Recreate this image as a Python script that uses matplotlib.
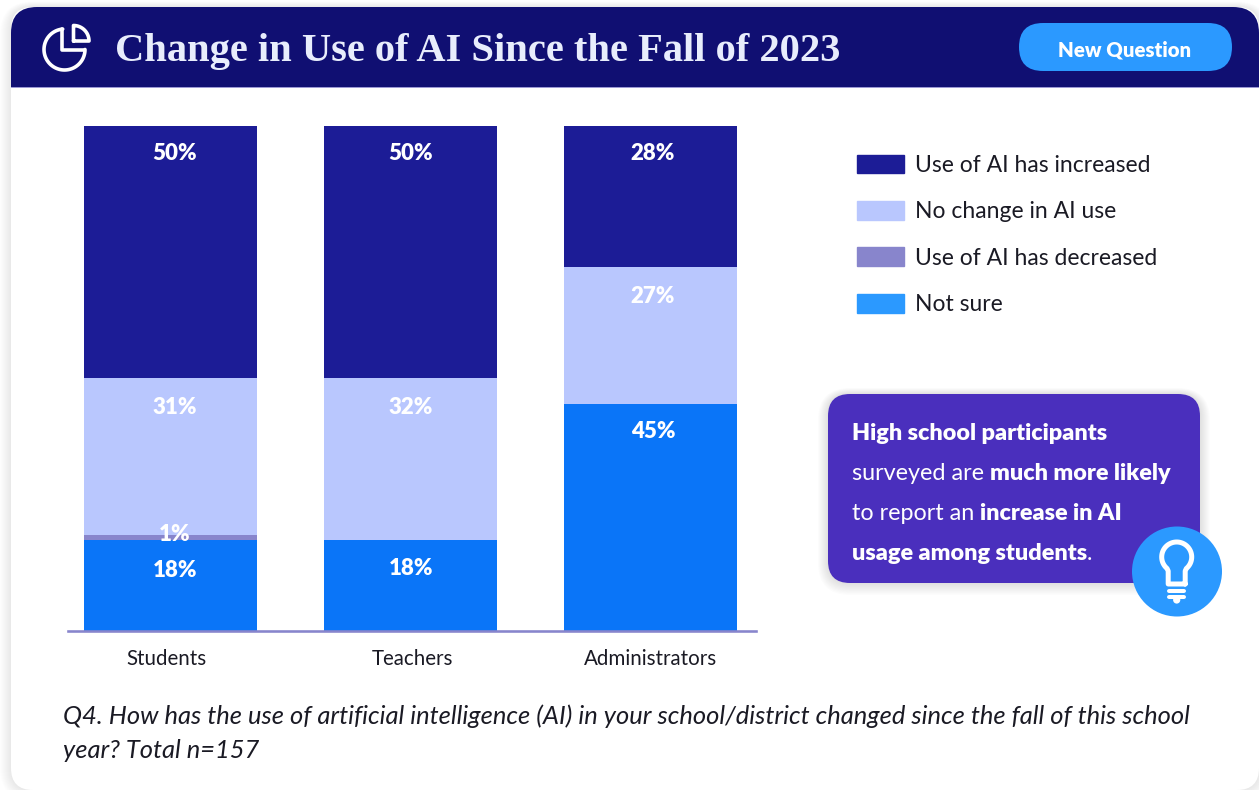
import numpy as np
import matplotlib
matplotlib.use("Agg")
import matplotlib.pyplot as plt
from matplotlib.patches import FancyBboxPatch, Circle, Patch
from matplotlib.transforms import ScaledTranslation

categories = ["Students", "Teachers", "Administrators"]
not_sure = [18, 18, 45]
decreased = [1, 0, 0]
no_change = [31, 32, 27]
increased = [50, 50, 28]
series_names = ["Use of AI has increased", "No change in AI use", "Use of AI has decreased", "Not sure"]

C_HEADER = "#100F72"
C_INC = "#1C1C96"
C_NOCH = "#B9C7FE"
C_DEC = "#8885CC"
C_NS = "#0A75F8"
C_BTN = "#2B99FF"
C_CALL = "#4A2FBD"
C_TEXT = "#1a1a24"
BODY = "Lato"

W, H = 1259, 790
fig = plt.figure(figsize=(W / 100, H / 100), dpi=100, facecolor="white")
px = 72 / 100

bg = fig.add_axes([0, 0, 1, 1], zorder=0)
bg.set_xlim(0, W); bg.set_ylim(H, 0); bg.axis("off")

def rbox(ax, x0, y0, x1, y1, r, **kw):
    p = FancyBboxPatch((x0 + r, y0 + r), x1 - x0 - 2 * r, y1 - y0 - 2 * r,
                       boxstyle=f"round,pad={r},rounding_size={r}", mutation_aspect=1, **kw)
    ax.add_patch(p)
    return p

# card shadow, card, header
for i in range(11, 0, -1):
    rbox(bg, 11 - i, 7 - i * 0.5, 1259 + i, 790 + i, 22 + i, fc="black", ec="none", alpha=0.006)
rbox(bg, 11, 7, 1259, 790, 22, fc="white", ec="none")
rbox(bg, 11, 7, 1259, 120, 26, fc=C_HEADER, ec="none")
bg.fill_between([11, 1259], 87, 122, color="white", lw=0, zorder=1.5)
bg.plot([11, 1259], [87.3, 87.3], color="#8885CC", lw=0.6, zorder=1.6)

# pie icon
def arc(ax, cx, cy, r, a0, a1, **kw):
    t = np.radians(np.linspace(a0, a1, 80))
    ax.plot(cx + r * np.cos(t), cy - r * np.sin(t), **kw)

ik = dict(color="white", lw=3.6 * px, solid_capstyle="round", solid_joinstyle="round", zorder=3)
arc(bg, 64.5, 49.5, 20.5, 95, 360, **ik)
bg.plot([62.5, 62.5, 84.5], [29, 50, 50], **ik)
t = np.radians(np.linspace(0, 90, 40))
xs = 73.5 + 15.5 * np.cos(t)
ys = 41 - 15.5 * np.sin(t)
bg.plot(np.r_[73.5, xs, 73.5], np.r_[41, ys, 41], **ik)

bg.text(115, 51, "Change in Use of AI Since the Fall of 2023", family="Liberation Serif",
        weight="bold", fontsize=29.2, color="#E8EDFC", va="center", ha="left", zorder=3)

# button
rbox(bg, 1019, 23, 1232, 71, 24, fc=C_BTN, ec="none", zorder=3)
bg.text(1124.5, 50, "New Question", family=BODY, weight="heavy", fontsize=14.7, color="white",
        ha="center", va="center", zorder=4)

# chart
ax = fig.add_axes([68 / W, 1 - 630.7 / H, (756 - 68) / W, 504.7 / H], zorder=1)
ax.patch.set_alpha(0)
step = 240
ax.set_xlim((68 - 170.5) / step, (756 - 170.5) / step)
ax.set_ylim(0, 100)
x = np.arange(len(categories))
bw = 173 / step
ax.bar(x, not_sure, bw, color=C_NS)
b1 = np.array(not_sure, float)
ax.bar(x, decreased, bw, bottom=b1, color=C_DEC)
b2 = b1 + decreased
ax.bar(x, no_change, bw, bottom=b2, color=C_NOCH)
b3 = b2 + no_change
ax.bar(x, increased, bw, bottom=b3, color=C_INC)

for s in ("top", "left", "right"):
    ax.spines[s].set_visible(False)
ax.spines["bottom"].set_color(C_DEC)
ax.spines["bottom"].set_linewidth(2.6 * px)
ax.set_yticks([])
ax.set_xticks(x, categories, family=BODY, fontsize=14.8, color=C_TEXT)
ax.tick_params(axis="x", length=0, pad=13)
for lab, dx in zip(ax.get_xticklabels(), (-4.5, 1.5, 0)):
    lab.set_transform(lab.get_transform() + ScaledTranslation(dx / 100, 0, fig.dpi_scale_trans))

def val_label(xi, top, v, dx, dy):
    ax.annotate(f"{v}%", (xi, top), xytext=(dx * px, -dy * px), textcoords="offset points",
                ha="center", va="center", family=BODY, weight="heavy", fontsize=16,
                color="white", zorder=6)

col_dx = (4.5, 0.5, 2.5)
bottom_dy = (30.5, 28.5, 28)
for i in range(3):
    val_label(i, b3[i] + increased[i], increased[i], col_dx[i], 28)
    val_label(i, b2[i] + no_change[i], no_change[i], col_dx[i], 29)
    if decreased[i]:
        val_label(i, b1[i] + decreased[i], decreased[i], col_dx[i], 0)
    val_label(i, not_sure[i], not_sure[i], col_dx[i], bottom_dy[i])

# legend
handles = [Patch(color=c) for c in (C_INC, C_NOCH, C_DEC, C_BTN)]
leg = fig.legend(handles, series_names, loc="upper left", bbox_to_anchor=(857 / W, 1 - 154.5 / H),
                 frameon=False, prop={"family": BODY, "size": 16.5}, labelcolor=C_TEXT,
                 handlelength=2.06, handleheight=0.88, handletextpad=0.47, labelspacing=1.1,
                 borderpad=0, borderaxespad=0)

# overlay
ov = fig.add_axes([0, 0, 1, 1], zorder=2)
ov.set_xlim(0, W); ov.set_ylim(H, 0); ov.axis("off"); ov.patch.set_alpha(0)

for i in range(10, 0, -1):
    rbox(ov, 828 - i, 394 - i * 0.6, 1200 + i, 583 + i * 1.2, 22 + i, fc="black", ec="none", alpha=0.012)
rbox(ov, 828, 394, 1200, 583, 22, fc=C_CALL, ec="none")

fig.canvas.draw()
rend = fig.canvas.get_renderer()

def rich(ax, x0, y, parts, size):
    cur = x0
    for txt, bold in parts:
        w = "heavy" if bold else "normal"
        ax.text(cur, y, txt, family=BODY, weight=w, fontsize=size,
                color="white", ha="left", va="baseline", zorder=6)
        # trailing spaces are not measured reliably, so measure with a sentinel
        a = ax.text(0, 0, txt + "|", family=BODY, weight=w, fontsize=size, alpha=0)
        b = ax.text(0, 0, "|", family=BODY, weight=w, fontsize=size, alpha=0)
        cur += a.get_window_extent(rend).width - b.get_window_extent(rend).width
        a.remove(); b.remove()

sz = 16.8
rich(ov, 852, 440, [("High school participants", True)], sz)
rich(ov, 852, 480, [("surveyed are ", False), ("much more likely", True)], sz)
rich(ov, 852, 520, [("to report an ", False), ("increase in AI", True)], sz)
rich(ov, 852, 560, [("usage among students", True), (".", False)], sz)

# bulb badge
ov.add_patch(Circle((1177, 571.5), 45, fc=C_BTN, ec="none", zorder=7))
bk = dict(color="white", lw=5 * px, solid_capstyle="round", solid_joinstyle="round", zorder=8)
t = np.radians(np.linspace(-50, 230, 80))
cx, cy, r = 1176.7, 557, 15
bx = cx + r * np.cos(t)
by = cy - r * np.sin(t)
ov.plot(np.r_[cx + 8.5, cx + 8.5, bx, cx - 8.5, cx - 8.5, cx + 8.5],
        np.r_[584, 571, by, 571, 584, 584], **bk)
ov.plot([1169, 1184], [591, 591], color="white", lw=4 * px, solid_capstyle="round", zorder=8)
ov.plot([1169, 1184], [596.5, 596.5], color="white", lw=4 * px, solid_capstyle="round", zorder=8)
ov.add_patch(Circle((1176.7, 600), 3.6, fc="white", ec="none", zorder=8))

# footnote
ov.text(63, 716.5, "Q4. How has the use of artificial intelligence (AI) in your school/district changed since the fall of this school",
        family=BODY, style="italic", fontsize=18.35, color=C_TEXT, va="center", ha="left")
ov.text(63, 751, "year? Total n=157", family=BODY, style="italic", fontsize=18.35, color=C_TEXT, va="center", ha="left")

fig.savefig("out.png", dpi=100, facecolor="white")
